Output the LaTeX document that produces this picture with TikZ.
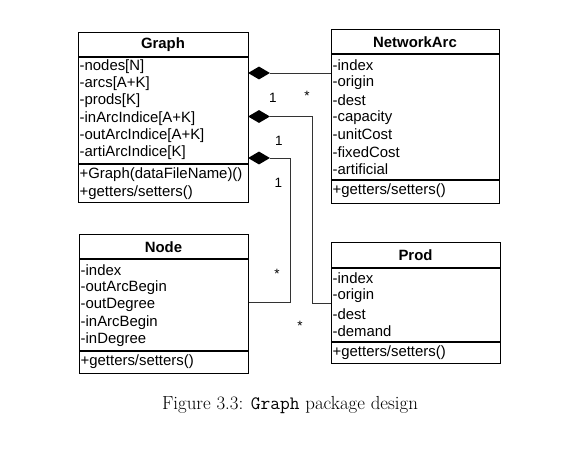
\documentclass[tikz,border=0pt]{standalone}
\usepackage{fontspec}
\setmainfont{Latin Modern Roman}
\newfontfamily\umlfont{Liberation Sans}
\setmonofont{Latin Modern Mono}
\usetikzlibrary{shapes.geometric}
\begin{document}
\begin{tikzpicture}[x=1pt,y=-1pt,
  classbox/.style={draw,line width=1.3pt,inner sep=0pt,anchor=north west},
  sepline/.style={line width=1.1pt},
  attr/.style={anchor=west,inner sep=0pt,font=\umlfont\fontsize{14.9}{16}\selectfont},
  ttl/.style={inner sep=0pt,font=\umlfont\bfseries\fontsize{14.9}{16}\selectfont},
  conn/.style={line width=0.7pt,draw=black!80},
  dia/.style={diamond,fill=black,inner sep=0pt,minimum width=22pt,minimum height=13pt,aspect=1.8},
  mult/.style={inner sep=0pt,font=\umlfont\fontsize{13.5}{15}\selectfont}]
\useasboundingbox (0,0) rectangle (584,450);
% ---- Graph
\node[classbox,minimum width=170pt,minimum height=170pt] (graph) at (78,32) {};
\draw[sepline] (78,57) -- (248,57) (78,164) -- (248,164);
\node[ttl] (graphT) at (163,45) {Graph};
\foreach \t [count=\i from 0] in {-nodes[N],-arcs[A+K],-prods[K],-inArcIndice[A+K],-outArcIndice[A+K],-artiArcIndice[K]}
  \node[attr] (ga\i) at (79.5,66.5+17.3*\i) {\t};
\node[attr] (gm0) at (79.5,175) {+Graph(dataFileName)()};
\node[attr] (gm1) at (79.5,192.5) {+getters/setters()};
% ---- NetworkArc
\node[classbox,minimum width=168pt,minimum height=174pt] (narc) at (331,29) {};
\draw[sepline] (331,54) -- (499,54) (331,180) -- (499,180);
\node[ttl] (narcT) at (415,42) {NetworkArc};
\foreach \t [count=\i from 0] in {-index,-origin,-dest,-capacity,-unitCost,-fixedCost,-artificial}
  \node[attr] (na\i) at (332.5,65+17.4*\i) {\t};
\node[attr] (nm0) at (332.5,191) {+getters/setters()};
% ---- Node
\node[classbox,minimum width=169pt,minimum height=139pt] (node) at (79,234) {};
\draw[sepline] (79,259) -- (248,259) (79,351) -- (248,351);
\node[ttl] (nodeT) at (163.5,247) {Node};
\foreach \t [count=\i from 0] in {-index,-outArcBegin,-outDegree,-inArcBegin,-inDegree}
  \node[attr] (no\i) at (80.5,270+17.4*\i) {\t};
\node[attr] (nom0) at (80.5,362) {+getters/setters()};
% ---- Prod
\node[classbox,minimum width=169pt,minimum height=121pt] (prod) at (331,242) {};
\draw[sepline] (331,268) -- (500,268) (331,342) -- (500,342);
\node[ttl] (prodT) at (415.5,255) {Prod};
\foreach \t [count=\i from 0] in {-index,-origin,-dest,-demand}
  \node[attr] (pr\i) at (332.5,278.5+17.6*\i) {\t};
\node[attr] (pm0) at (332.5,353) {+getters/setters()};
% ---- diamonds
\node[dia] (d1) at (259,73) {};
\node[dia] (d2) at (259,116.5) {};
\node[dia] (d3) at (259,158) {};
\coordinate (c2) at (312,116.5);
\coordinate (c2b) at (312,303);
\coordinate (c3) at (290,158);
\coordinate (c3b) at (290,302);
\draw[conn] (d1.east) -- (narc.west |- d1.east);
\draw[conn] (d2.east) -- (c2) -- (c2b) -- (prod.west |- c2b);
\draw[conn] (d3.east) -- (c3) -- (c3b) -- (node.east |- c3b);
% ---- multiplicities
\node[mult] (m1) at (273,98) {1};
\node[mult] (m2) at (307,96) {*};
\node[mult] (m3) at (279,141) {1};
\node[mult] (m4) at (278.5,183) {1};
\node[mult] (m5) at (277,274) {*};
\node[mult] (m6) at (300,326) {*};
% ---- caption
\node[inner sep=0pt,font=\fontsize{18.9}{21}\selectfont] (cap) at (290,405) {Figure 3.3: \texttt{Graph} package design};
\end{tikzpicture}
\end{document}
